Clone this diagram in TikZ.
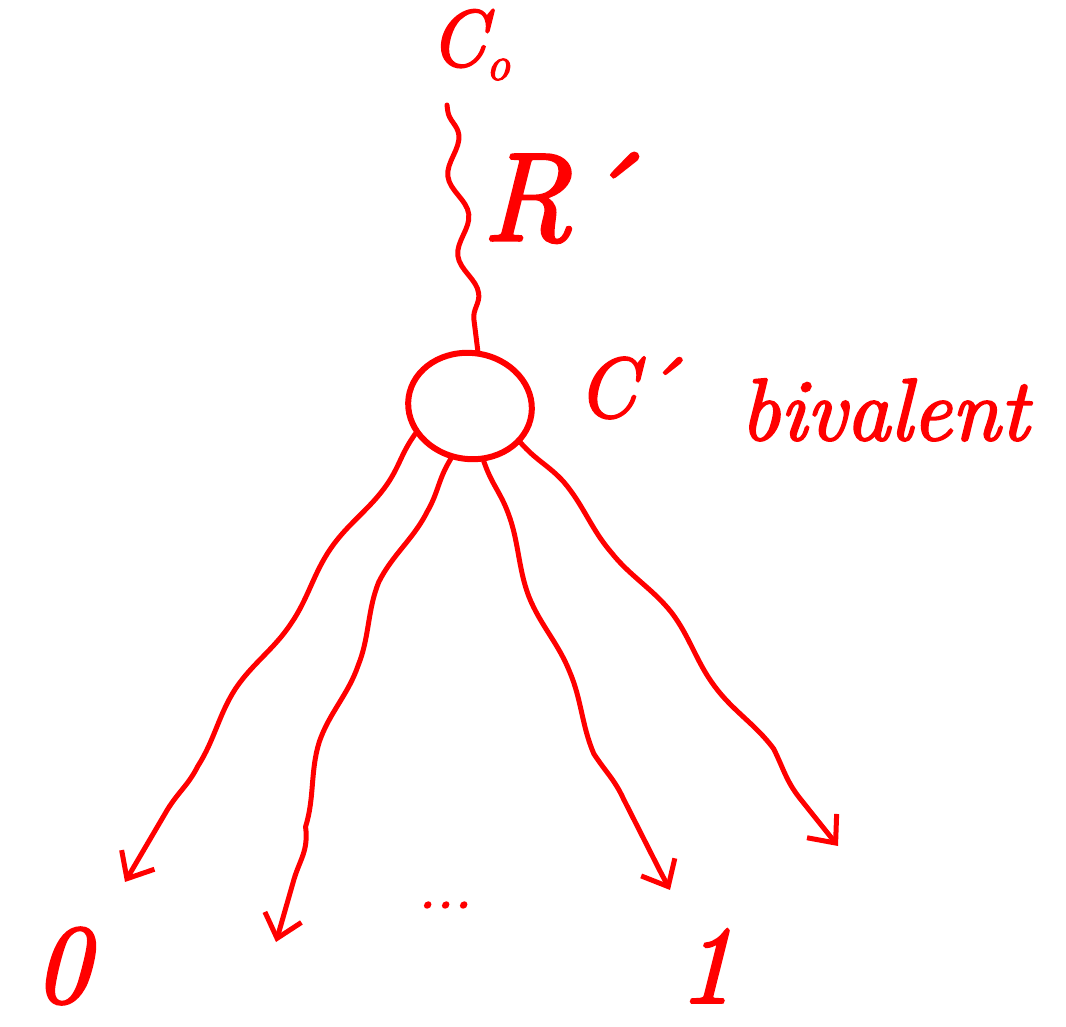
\documentclass[tikz,border=0pt]{standalone}
\usepackage{fontspec}
\newfontfamily\handfont{Latin Modern Roman}[FakeBold=2.5]
\usetikzlibrary{shapes.geometric,decorations.pathmorphing,arrows.meta}
\begin{document}
\begin{tikzpicture}[x=1pt,y=-1pt,
  ink/.style={red, line width=6pt, line cap=round, line join=round},
  lbl/.style={text=red, inner sep=0pt},
  wavy/.style={ink, line width=5pt, decorate,
    decoration={snake, amplitude=#1, segment length=170pt, pre length=4pt, post length=22pt}},
  tip/.style={-{Straight Barb[length=22pt,width=38pt,line width=5pt]}},
]
\useasboundingbox (0,0) rectangle (1066,1026);

% labels
\node[lbl, font=\fontsize{80}{80}\handfont\itshape] (c0) at (470,45)
  {C\raisebox{-14pt}{\fontsize{48}{48}\handfont\itshape o}};
\node[lbl, font=\fontsize{125}{125}\handfont\itshape] (r) at (558,198) {R´};
\node[lbl, font=\fontsize{85}{85}\handfont\itshape] (cp) at (628,388) {C´};
\node[lbl, font=\fontsize{88}{88}\handfont\itshape, anchor=base west] (biv) at (740,440) {bivalent};
\node[lbl, font=\fontsize{112}{112}\handfont\itshape] (zero) at (62,966) {0};
\node[lbl, font=\fontsize{110}{110}\handfont\itshape] (one) at (706,966) {1};
\node[lbl, font=\fontsize{60}{60}\handfont\itshape] (dots) at (445,905) {...};

% configuration node
\node[ink, draw, ellipse, minimum width=124pt, minimum height=106pt, rotate=-8] (c) at (470,406) {};

% wavy path from C0 to C'
\coordinate (top) at (447,105);
\draw[ink, line width=5pt, decorate,
  decoration={snake, amplitude=8pt, segment length=80pt, pre length=6pt, post length=6pt}]
  (top) -- (c.north);

% tips of the four branches
\coordinate (e1) at (125,882);
\coordinate (e2) at (276,942);
\coordinate (e3) at (670,890);
\coordinate (e4) at (838,846);

\draw[wavy=5pt, tip] (c.215) .. controls (330,560) and (260,650) .. (e1);
\draw[wavy=6pt, tip] (c.258) .. controls (380,580) and (340,720) .. (e2);
\draw[wavy=5pt, tip] (c.292) .. controls (520,560) and (580,720) .. (e3);
\draw[wavy=5pt, tip] (c.332) .. controls (630,560) and (720,700) .. (e4);
\end{tikzpicture}
\end{document}
